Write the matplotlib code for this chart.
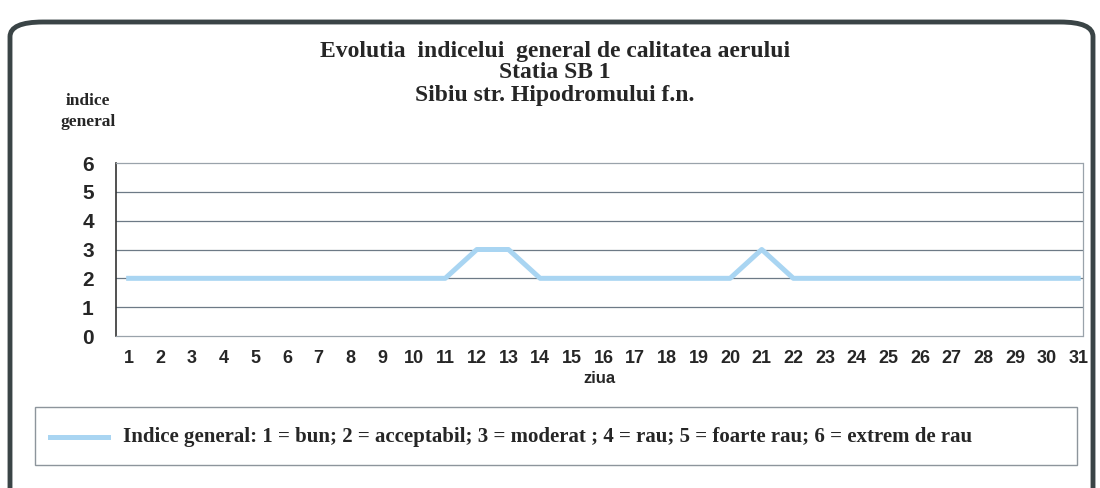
import matplotlib.pyplot as plt
from matplotlib.patches import FancyBboxPatch, Rectangle
from matplotlib.lines import Line2D

# daily general air quality index, Sibiu SB 1
days = list(range(1, 32))
indice = [2, 2, 2, 2, 2, 2, 2, 2, 2, 2, 2, 3, 3, 2, 2, 2, 2, 2, 2, 2,
          3, 2, 2, 2, 2, 2, 2, 2, 2, 2, 2]
y_ticks = [0, 1, 2, 3, 4, 5, 6]

title_lines = ["Evolutia  indicelui  general de calitatea aerului",
               "Statia SB 1",
               "Sibiu str. Hipodromului f.n."]
legend_text = ("Indice general: 1 = bun; 2 = acceptabil; 3 = moderat ; 4 = rau; "
               "5 = foarte rau; 6 = extrem de rau")

serif = ['Liberation Serif', 'DejaVu Serif']
sans = ['Liberation Sans', 'DejaVu Sans']
line_color = '#a9d5f2'
text_color = '#262626'

fig = plt.figure(figsize=(11, 4.88), dpi=100)
W, H = 1100, 488

# outer rounded frame
frame = FancyBboxPatch((10 / W, -20 / H), 1083 / W, 486 / H,
                       boxstyle="round,pad=0,rounding_size=0.03",
                       transform=fig.transFigure, fill=False,
                       edgecolor='#3a4446', linewidth=3.5)
fig.patches.append(frame)

ax = fig.add_axes([116 / W, 1 - 336 / H, (1083 - 116) / W, (336 - 163) / H])
ax.plot(days, indice, color=line_color, linewidth=3.6, solid_joinstyle='round')
ax.set_xlim(0.6, 31.15)
ax.set_ylim(0, 6)
ax.set_xticks(days)
ax.set_xticklabels([str(d) for d in days], fontsize=13, fontweight='bold',
                   family=sans, color=text_color)
ax.set_yticks(y_ticks)
ax.set_yticklabels([str(v) for v in y_ticks], fontsize=15, fontweight='bold',
                   family=sans, color=text_color)
ax.tick_params(axis='both', length=0)
ax.tick_params(axis='y', pad=16)
ax.tick_params(axis='x', pad=10)
for v in y_ticks[1:-1]:
    ax.axhline(v, color='#6d7a86', linewidth=0.9, zorder=0)
for s in ['top', 'bottom', 'right']:
    ax.spines[s].set_color('#9aa3ab')
    ax.spines[s].set_linewidth(0.9)
    ax.spines[s].set_linestyle((0, (2, 1)))
ax.spines['left'].set_color('#333333')
ax.spines['left'].set_linewidth(1.2)

ax.set_xlabel('ziua', fontsize=12, fontweight='bold', family=sans, labelpad=3,
              color=text_color)

for ypix, line in zip([51, 73, 96], title_lines):
    fig.text(555 / W, 1 - ypix / H, line, ha='center', va='center',
             fontsize=17, fontweight='bold', family=serif, color=text_color)
fig.text(88 / W, 1 - 101 / H, "indice", ha='center', va='center',
         fontsize=12.5, fontweight='bold', family=serif, color=text_color)
fig.text(88 / W, 1 - 122 / H, "general", ha='center', va='center',
         fontsize=12.5, fontweight='bold', family=serif, color=text_color)

# legend box
fig.patches.append(Rectangle((35 / W, 1 - 465 / H), (1077 - 35) / W, 58 / H,
                             transform=fig.transFigure, fill=False,
                             edgecolor='#8d959c', linewidth=1.0))
fig.lines.append(Line2D([50 / W, 108 / W], [1 - 437 / H, 1 - 437 / H],
                        transform=fig.transFigure, color=line_color,
                        linewidth=3.6))
fig.text(123 / W, 1 - 437 / H, legend_text, ha='left', va='center',
         fontsize=15, fontweight='bold', family=serif, color=text_color)

fig.savefig('out.png', dpi=100, facecolor='white')
